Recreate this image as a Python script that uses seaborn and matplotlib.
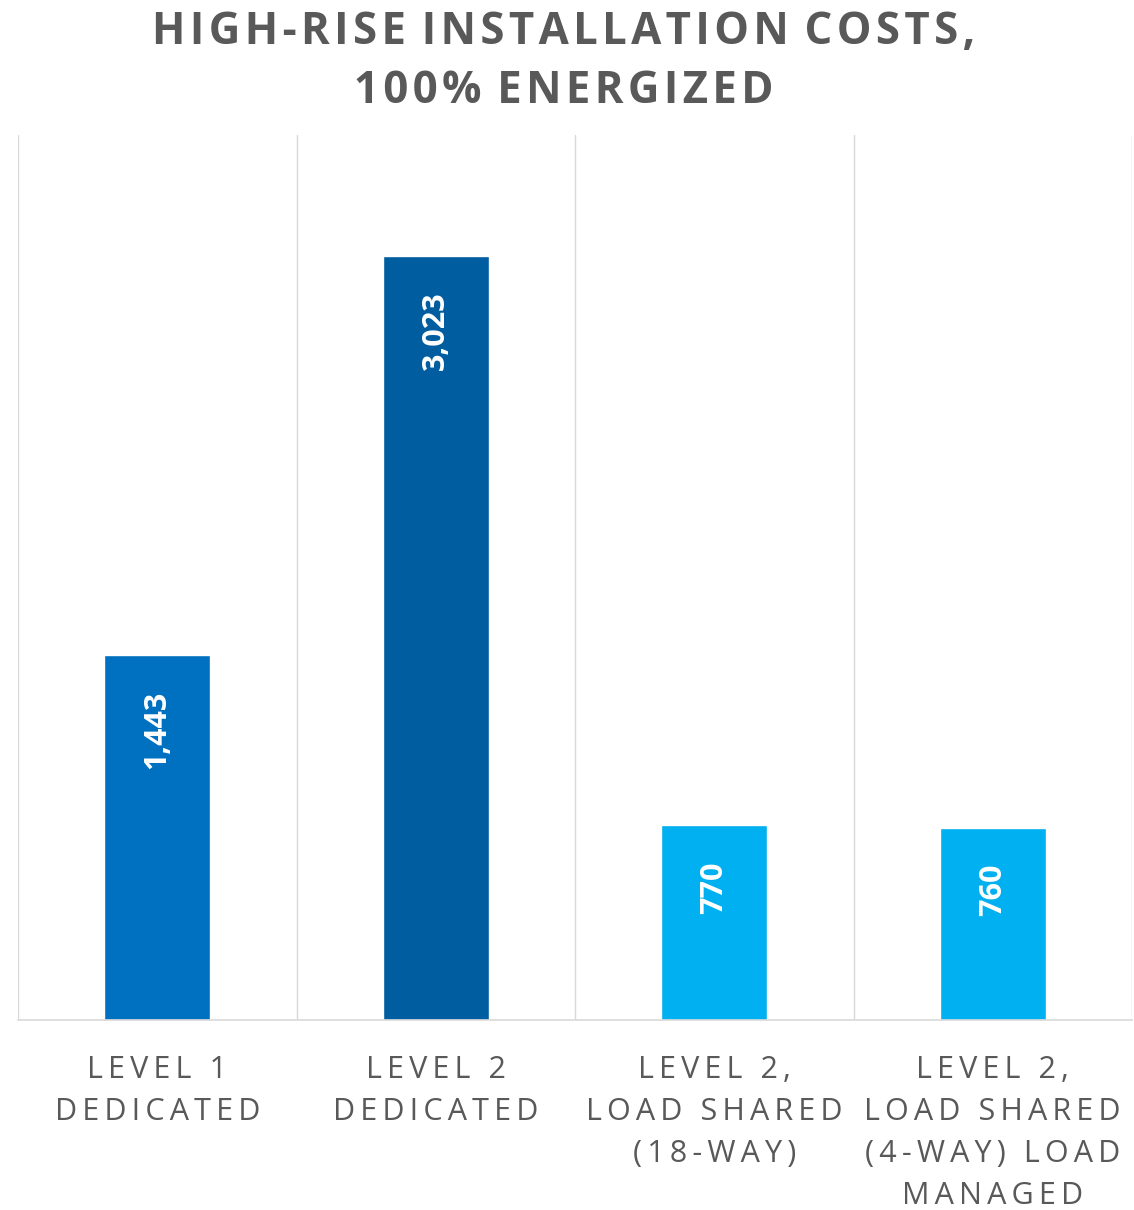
import matplotlib
matplotlib.use("Agg")
import matplotlib.pyplot as plt
import seaborn as sns
import pandas as pd
from matplotlib.ticker import FixedLocator

categories = ["LEVEL 1\nDEDICATED", "LEVEL 2\nDEDICATED",
              "LEVEL 2,\nLOAD SHARED\n(18-WAY)",
              "LEVEL 2,\nLOAD SHARED\n(4-WAY) LOAD\nMANAGED"]
values = [1443, 3023, 770, 760]
value_labels = ["1,443", "3,023", "770", "760"]
bar_colors = ["#0070C0", "#005DA0", "#00B0F0", "#00B0F0"]
title = "HIGH-RISE INSTALLATION COSTS,\n100% ENERGIZED"


def spaced(s, sp, wsp=" "):
    return "\n".join(wsp.join(sp.join(w) for w in line.split(" "))
                     for line in s.split("\n"))


sns.set_theme(style="white")
plt.rcParams['font.family'] = ['Open Sans', 'DejaVu Sans']

df = pd.DataFrame({"cat": categories, "val": values})

fig = plt.figure(figsize=(11.34, 12.10), dpi=100)
ax = fig.add_axes([18/1134, (1210-1020)/1210, (1132-18)/1134, (1020-135)/1210])

sns.barplot(data=df, x="cat", y="val", hue="cat", palette=dict(zip(categories, bar_colors)),
            width=0.38, legend=False, ax=ax, saturation=1)

ax.set_xlim(-0.5, 3.5)
ax.set_ylim(0, 3500)
ax.set_yticks([])
ax.set_xlabel("")
ax.set_ylabel("")
for s in ["top", "right", "left"]:
    ax.spines[s].set_visible(False)
ax.spines["bottom"].set_color("#D9D9D9")
ax.spines["bottom"].set_linewidth(1.2)

ax.xaxis.set_minor_locator(FixedLocator([-0.5, 0.5, 1.5, 2.5, 3.5]))
ax.grid(True, which="minor", axis="x", color="#D9D9D9", linewidth=1.0)
ax.tick_params(axis="x", which="both", length=0, pad=25)
ax.set_xticks(range(len(categories)))
ax.set_xticklabels([spaced(c, "\u2009", "\u2009 \u2009") for c in categories], fontsize=22,
                   color="#595959", linespacing=1.53)

for i, (v, t) in enumerate(zip(values, value_labels)):
    ax.annotate(t, (i, v), xytext=(0, -26), textcoords="offset points",
                rotation=90, ha="center", va="top", color="white",
                fontsize=22, fontweight="bold")

fig.text(0.497, 0.992, spaced(title, "\u200a", " \u200a"), ha="center", va="top", fontsize=31.5,
         fontweight="bold", color="#595959", linespacing=1.42)

fig.savefig("out.png", dpi=100)
